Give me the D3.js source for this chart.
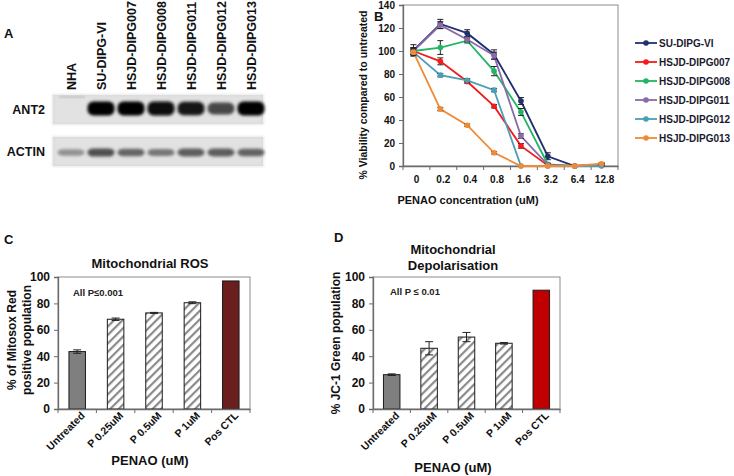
<!DOCTYPE html>
<html><head><meta charset="utf-8">
<script src="https://cdn.jsdelivr.net/npm/d3@7"></script>
<style>
html,body{margin:0;padding:0;background:#fff;}
svg{display:block;font-family:"Liberation Sans",Arial,sans-serif;}
</style></head>
<body><svg id="c" width="734" height="476"></svg>
<script>
// ---------- DATA ----------
const lanes = ["NHA","SU-DIPG-VI","HSJD-DIPG007","HSJD-DIPG008","HSJD-DIPG011","HSJD-DIPG012","HSJD-DIPG013"];
const ant2Signal = [0.0, 1.0, 1.0, 0.97, 0.92, 0.7, 1.0];
const actinSignal = [0.45, 0.82, 0.7, 0.6, 0.75, 0.75, 0.72];

const concentrations = ["0","0.2","0.4","0.8","1.6","3.2","6.4","12.8"];
const seriesNames = ["SU-DIPG-VI","HSJD-DIPG007","HSJD-DIPG008","HSJD-DIPG011","HSJD-DIPG012","HSJD-DIPG013"];
const seriesColors = ["#1f3070","#f21a1a","#22b565","#8a6aa8","#4a9fb5","#f08a35"];
const suDipgVI = [100.5, 123.5, 115.5, 97, 56.5, 8.5, 0, 1];
const dipg007 = [100, 91, 73.5, 52, 17.5, 0.5, 0, 0.5];
const dipg008 = [100, 103, 109, 82.5, 47, 1.5, 0, 1];
const dipg011 = [100, 122.5, 110, 96, 26, 1, 0, 1];
const dipg012 = [99, 79, 74.5, 66, 0, 0, 0, 0];
const dipg013 = [99, 49.5, 35.5, 11.5, 0, 0, 0, 2];
const errSU = [5, 4, 3, 4, 3, 3, 0, 1];
const err007 = [2, 3, 1.5, 1.5, 2, 0.5, 0, 0.5];
const err008 = [3, 6, 2, 4, 3, 1, 0, 1];
const err011 = [3, 3, 2, 3, 2, 1, 0, 1];
const err012 = [2, 1.5, 1.5, 1.5, 0, 0, 0, 0];
const err013 = [3, 1.5, 1, 1, 0, 0, 0, 1];
const viability = [suDipgVI, dipg007, dipg008, dipg011, dipg012, dipg013];
const viabilityErr = [errSU, err007, err008, err011, err012, err013];
const viabilityTicks = [0,20,40,60,80,100,120,140];

const treatments = ["Untreated","P 0.25uM","P 0.5uM","P 1uM","Pos CTL"];
const rosValues = [43.5, 68, 72.8, 80.5, 97];
const rosErr = [1.3, 0.9, 0.4, 0.7, 0];
const depolValues = [26, 46, 54.5, 49.8, 90];
const depolErr = [0.6, 5, 3.5, 0.6, 0];
const barTicks = [0,20,40,60,80,100];

// ---------- SETUP ----------
const svg = d3.select("#c");
const defs = svg.append("defs");
defs.append("filter").attr("id","blur").attr("x","-30%").attr("y","-60%").attr("width","160%").attr("height","220%")
  .append("feGaussianBlur").attr("stdDeviation",1.6);
defs.append("filter").attr("id","blur2").attr("x","-10%").attr("y","-10%").attr("width","120%").attr("height","120%")
  .append("feGaussianBlur").attr("stdDeviation",0.8);
const hatch = defs.append("pattern").attr("id","hatch").attr("patternUnits","userSpaceOnUse")
  .attr("width",6).attr("height",6).attr("patternTransform","rotate(45)");
hatch.append("rect").attr("width",6).attr("height",6).attr("fill","#fff");
hatch.append("rect").attr("width",2.2).attr("height",6).attr("fill","#8a8a8a");

const AX = "#6b6b6b";
function panelLabel(t,x,y){svg.append("text").attr("x",x).attr("y",y).attr("font-weight","bold").attr("font-size",13).attr("fill","#111").text(t);}

// ---------- PANEL A: blot ----------
panelLabel("A",4,38);
const laneX = d3.scalePoint().domain(lanes).range([71,251]);
const blotG = svg.append("g");
blotG.selectAll("text.lane").data(lanes).join("text").attr("class","lane")
  .attr("transform",d=>`translate(${laneX(d)+4.5},90) rotate(-90)`)
  .attr("font-size",12.5).attr("font-weight","bold").attr("fill","#111").text(d=>d);
function blot(y0,h,label,signal,bandY,bandH,base){
  blotG.append("rect").attr("x",53).attr("y",y0).attr("width",210).attr("height",h).attr("fill","#e2e2e2");
  blotG.append("rect").attr("x",53).attr("y",y0).attr("width",210).attr("height",h).attr("fill","none").attr("stroke","#d0d0d0").attr("stroke-width",1).attr("filter","url(#blur2)");
  blotG.append("text").attr("x",45).attr("y",y0+h/2+4.5).attr("text-anchor","end").attr("font-size",12.5).attr("font-weight","bold").attr("fill","#111").text(label);
  const col = d3.scaleLinear().domain([0,1]).range(["#e2e2e2",base]);
  blotG.selectAll(null).data(lanes).join("rect")
    .attr("x",d=>laneX(d)-13.5).attr("width",27)
    .attr("y",(d,i)=>bandY - bandH*(0.5+0.5*signal[i])/2)
    .attr("height",(d,i)=>bandH*(0.5+0.5*signal[i]))
    .attr("rx",6).attr("fill",(d,i)=>col(signal[i]))
    .attr("filter","url(#blur)");
}
blot(95,29,"ANT2",ant2Signal,108.5,14,"#050505");
blot(137,29,"ACTIN",actinSignal,152.5,9,"#303030");
// faint NHA trace on ANT2
blotG.append("rect").attr("x",59).attr("y",96).attr("width",26).attr("height",2).attr("fill","#c4c4c4").attr("filter","url(#blur2)");

// ---------- PANEL B: line chart ----------
panelLabel("B",374,21);
const bx = d3.scaleBand().domain(concentrations).range([403,618]);
const by = d3.scaleLinear().domain([0,140]).range([166,5]);
const bG = svg.append("g");
bG.append("rect").attr("x",403).attr("y",5).attr("width",215).attr("height",161).attr("fill","none").attr("stroke","#8c8c8c").attr("stroke-width",1);
const byAxis = bG.append("g").attr("transform","translate(403,0)")
  .call(d3.axisLeft(by).tickValues(viabilityTicks).tickSize(4).tickPadding(4));
const bxAxis = bG.append("g").attr("transform","translate(0,166)")
  .call(d3.axisBottom(bx).tickSize(0).tickPadding(10));
[byAxis,bxAxis].forEach(a=>{a.select(".domain").attr("stroke",AX).attr("stroke-width",1.3);a.selectAll("line").attr("stroke",AX);a.selectAll("text").attr("font-size",10).attr("font-weight","bold").attr("fill","#111").attr("font-family","Liberation Sans, Arial, sans-serif");});
bG.selectAll("line.xt").data(d3.range(concentrations.length+1)).join("line").attr("class","xt")
  .attr("x1",i=>403+i*bx.step()).attr("x2",i=>403+i*bx.step()).attr("y1",166).attr("y2",170).attr("stroke",AX);
const cx = d=>bx(d)+bx.bandwidth()/2 - 3;
const line = d3.line().x((v,i)=>cx(concentrations[i])).y(v=>by(v));
viability.forEach((vals,s)=>{
  const g = bG.append("g");
  g.append("path").datum(vals).attr("d",line).attr("fill","none").attr("stroke",seriesColors[s]).attr("stroke-width",1.8);
  vals.forEach((v,i)=>{
    const e = viabilityErr[s][i];
    if(e>0){
      const x = cx(concentrations[i]);
      g.append("path").attr("d",`M${x},${by(v+e)}V${by(v-e)}M${x-3},${by(v+e)}H${x+3}M${x-3},${by(v-e)}H${x+3}`).attr("stroke","#222").attr("stroke-width",1).attr("fill","none");
    }
  });
  g.selectAll("circle").data(vals).join("circle").attr("cx",(v,i)=>cx(concentrations[i])).attr("cy",v=>by(v)).attr("r",2.8).attr("fill",seriesColors[s]);
});
bG.append("text").attr("transform","translate(367,95) rotate(-90)").attr("text-anchor","middle").attr("font-size",10.5).attr("font-weight","bold").attr("fill","#111").text("% Viability compared to untreated");
bG.append("text").attr("x",468).attr("y",204).attr("text-anchor","middle").attr("font-size",11).attr("font-weight","bold").attr("fill","#111").text("PENAO concentration (uM)");
// legend
const leg = bG.append("g");
seriesNames.forEach((n,i)=>{
  const y = 43 + i*19;
  leg.append("line").attr("x1",635).attr("x2",657).attr("y1",y).attr("y2",y).attr("stroke",seriesColors[i]).attr("stroke-width",1.8);
  leg.append("circle").attr("cx",646).attr("cy",y).attr("r",2.8).attr("fill",seriesColors[i]);
  leg.append("text").attr("x",659).attr("y",y+3.5).attr("font-size",10).attr("font-weight","bold").attr("fill","#1a1a2e").text(n);
});

// ---------- BAR PANELS ----------
function barPanel(opt){
  const g = svg.append("g");
  const x = d3.scaleBand().domain(treatments).range([opt.x0,opt.x1]).paddingInner(0).paddingOuter(0);
  const y = d3.scaleLinear().domain([0,100]).range([409,277]);
  g.append("rect").attr("x",opt.x0).attr("y",277).attr("width",opt.x1-opt.x0).attr("height",132).attr("fill","none").attr("stroke","#8c8c8c").attr("stroke-width",1);
  const bw = 16.5;
  g.selectAll("rect.bar").data(opt.values).join("rect").attr("class","bar")
    .attr("x",(d,i)=>x(treatments[i])+x.bandwidth()/2-bw/2).attr("width",bw)
    .attr("y",d=>y(d)).attr("height",d=>y(0)-y(d))
    .attr("fill",(d,i)=>i===0?"#7f7f7f":(i===4?opt.posColor:"url(#hatch)"))
    .attr("stroke","#1a1a1a").attr("stroke-width",1);
  opt.values.forEach((v,i)=>{
    const e = opt.err[i]; if(!(e>0)) return;
    const cxp = x(treatments[i])+x.bandwidth()/2;
    g.append("path").attr("d",`M${cxp},${y(v+e)}V${y(v-e)}M${cxp-4},${y(v+e)}H${cxp+4}M${cxp-4},${y(v-e)}H${cxp+4}`).attr("stroke","#222").attr("stroke-width",1).attr("fill","none");
  });
  const ya = g.append("g").attr("transform",`translate(${opt.x0},0)`).call(d3.axisLeft(y).tickValues(barTicks).tickSize(4).tickPadding(4));
  const xa = g.append("g").attr("transform","translate(0,409)").call(d3.axisBottom(x).tickSize(0).tickPadding(6));
  [ya,xa].forEach(a=>{a.select(".domain").attr("stroke",AX).attr("stroke-width",1.3);a.selectAll("line").attr("stroke",AX);a.selectAll("text").attr("font-weight","bold").attr("fill","#111").attr("font-family","Liberation Sans, Arial, sans-serif");});
  ya.selectAll("text").attr("font-size",12);
  xa.selectAll("text").attr("font-size",10.5).attr("text-anchor","end").attr("dy",0)
    .attr("transform",`translate(4,3) rotate(-45)`).attr("y",6).attr("x",0);
  g.selectAll(null).data(d3.range(treatments.length+1)).join("line")
    .attr("x1",i=>opt.x0+i*x.step()).attr("x2",i=>opt.x0+i*x.step()).attr("y1",409).attr("y2",413).attr("stroke",AX);
  opt.title.forEach((t,i)=>g.append("text").attr("x",opt.tx).attr("y",opt.ty+i*16).attr("text-anchor","middle").attr("font-size",13).attr("font-weight","bold").attr("fill","#111").text(t));
  g.append("text").attr("x",opt.px).attr("y",opt.py).attr("font-size",9.5).attr("font-weight","bold").attr("fill","#222").text(opt.pText);
  opt.ylab.forEach((t,i)=>g.append("text").attr("transform",`translate(${opt.yl+i*15},${opt.ylc}) rotate(-90)`).attr("text-anchor","middle").attr("font-size",12).attr("font-weight","bold").attr("fill","#111").text(t));
  g.append("text").attr("x",opt.tx).attr("y",opt.xty).attr("text-anchor","middle").attr("font-size",13).attr("font-weight","bold").attr("fill","#111").text("PENAO (uM)");
}
panelLabel("C",4,244);
barPanel({x0:58,x1:250,values:rosValues,err:rosErr,posColor:"#6a1e1e",title:["Mitochondrial ROS"],tx:150,ty:268,
  pText:"All P\u22640.001",px:73,py:296,ylab:["% of Mitosox Red","positive population"],yl:16,ylc:340,xty:465});
panelLabel("D",334,242);
barPanel({x0:373,x1:560,values:depolValues,err:depolErr,posColor:"#c00000",title:["Mitochondrial","Depolarisation"],tx:453,ty:254,
  pText:"All P \u2264 0.01",px:390,py:295,ylab:["% JC-1 Green population"],yl:340,ylc:343,xty:472});
</script></body></html>
